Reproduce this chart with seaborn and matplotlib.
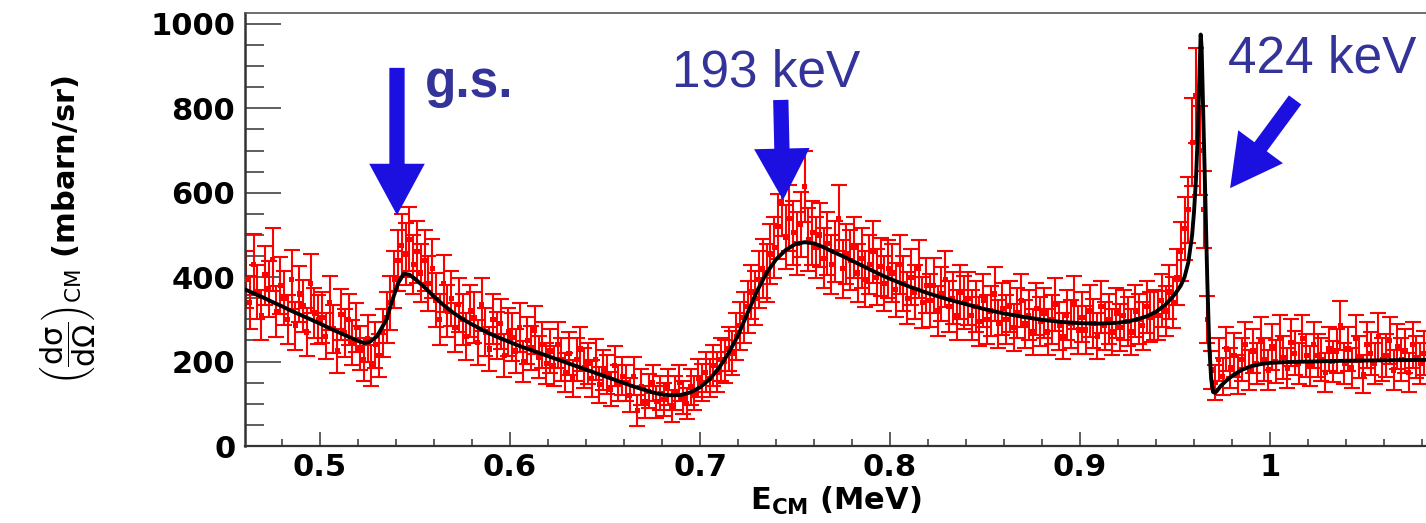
import numpy as np
import pandas as pd
import matplotlib
matplotlib.use("Agg")
import matplotlib.pyplot as plt
import seaborn as sns
from matplotlib.ticker import MultipleLocator, FuncFormatter

# --- fit curve (black line) ---
fit_e = [0.460, 0.465, 0.470, 0.475, 0.480, 0.485, 0.490, 0.495, 0.500, 0.505,
         0.510, 0.515, 0.520, 0.523, 0.526, 0.530, 0.535, 0.538, 0.541, 0.544,
         0.547, 0.550, 0.555, 0.560, 0.565, 0.570, 0.575, 0.580, 0.585, 0.590,
         0.595, 0.600, 0.605, 0.610, 0.615, 0.620, 0.625, 0.630, 0.635, 0.640,
         0.645, 0.650, 0.655, 0.660, 0.665, 0.670, 0.675, 0.680, 0.685, 0.690,
         0.695, 0.700, 0.705, 0.710, 0.715, 0.720, 0.725, 0.730, 0.735, 0.740,
         0.745, 0.750, 0.755, 0.760, 0.765, 0.770, 0.775, 0.780, 0.785, 0.790,
         0.795, 0.800, 0.810, 0.820, 0.830, 0.840, 0.850, 0.860, 0.870, 0.880,
         0.890, 0.900, 0.910, 0.920, 0.925, 0.930, 0.935, 0.940, 0.945, 0.950,
         0.953, 0.955, 0.957, 0.959, 0.960, 0.961, 0.962, 0.963, 0.9635, 0.964,
         0.965, 0.966, 0.967, 0.968, 0.969, 0.970, 0.971, 0.972, 0.974, 0.977,
         0.980, 0.985, 0.990, 0.995, 1.000, 1.010, 1.020, 1.040, 1.060, 1.082]
fit_xs = [372, 362, 352, 341, 331, 320, 310, 300, 290, 279,
          269, 259, 249, 244, 246, 260, 300, 345, 385, 408,
          406, 396, 376, 354, 334, 316, 301, 288, 276, 265,
          255, 246, 237, 229, 221, 213, 205, 197, 189, 181,
          173, 165, 157, 149, 141, 134, 127, 122, 120, 121,
          127, 139, 158, 185, 220, 262, 315, 367, 410, 442,
          464, 478, 483, 480, 471, 460, 450, 439, 428, 417,
          406, 396, 378, 362, 348, 336, 324, 314, 306, 299,
          294, 291, 290, 292, 295, 300, 307, 318, 335, 360,
          380, 400, 435, 500, 555, 630, 740, 900, 975, 945,
          760, 580, 390, 240, 160, 128, 126, 130, 142, 155,
          166, 180, 189, 194, 197, 199, 200, 202, 203, 204]

# --- measured points (red), bins of 2 keV starting at 0.461 MeV ---
e_first = 0.461
e_bin = 0.002
data_xs = [
    395, 340, 430, 365, 310, 405, 372, 442, 318, 380,
    350, 300, 395, 285, 360, 332, 270, 385, 315, 300,
    305, 260, 340, 278, 225, 312, 268, 300, 245, 280,
    232, 205, 255, 190, 240, 215, 268, 305, 340, 395,
    440, 475, 455, 490, 430, 460, 410, 440, 385, 420,
    345, 300, 385, 320, 350, 280, 335, 300, 260, 320,
    305, 245, 335, 270, 230, 300, 262, 290, 215, 270,
    258, 225, 280, 200, 250, 232, 275, 210, 240, 195,
    225, 190, 240, 205, 175, 220, 160, 205, 230, 185,
    195, 160, 205, 145, 180, 170, 135, 190, 150, 165,
    150, 120, 165, 85, 140, 105, 130, 150, 105, 125,
    110, 140, 95, 125, 150, 115, 100, 140, 125, 160,
    150, 175, 160, 190, 175, 205, 200, 230, 220, 260,
    285, 305, 330, 365, 350, 395, 420, 410, 455, 470,
    520, 580, 495, 540, 505, 480, 525, 615, 490, 505,
    470, 500, 445, 480, 430, 460, 540, 420, 455, 440,
    470, 410, 445, 395, 430, 460, 400, 425, 385, 420,
    410, 370, 430, 385, 350, 400, 365, 420, 340, 380,
    345, 380, 320, 360, 395, 330, 350, 310, 365, 340,
    350, 310, 330, 295, 345, 300, 320, 360, 290, 325,
    300, 330, 280, 315, 345, 290, 310, 270, 325, 295,
    315, 270, 300, 335, 285, 260, 310, 290, 340, 275,
    305, 275, 320, 290, 260, 330, 285, 300, 270, 315,
    280, 310, 295, 270, 320, 300, 285, 330, 305, 310,
    310, 345, 320, 365, 340, 400, 460, 515, 560, 720,
    830, 700, 560, 300, 180, 150, 205, 165, 230, 185,
    215, 170, 205, 240, 180, 225, 195, 250, 205, 180,
    235, 200, 255, 210, 185, 245, 220, 195, 255, 215,
    190, 240, 215, 205, 175, 230, 200, 225, 285, 195,
    230, 185, 255, 210, 170, 240, 220, 195, 260, 205,
    215, 250, 180, 235, 205, 225, 175, 240, 210, 195,
    220]
data_err = [
    68, 62, 72, 65, 60, 70, 66, 74, 60, 67,
    64, 58, 70, 57, 66, 62, 56, 69, 60, 58,
    60, 55, 64, 57, 52, 61, 56, 60, 54, 58,
    53, 50, 55, 49, 54, 51, 57, 60, 64, 68,
    72, 75, 73, 76, 70, 73, 69, 72, 66, 70,
    64, 60, 68, 62, 65, 58, 64, 60, 56, 62,
    60, 54, 63, 57, 52, 59, 56, 59, 51, 57,
    56, 52, 58, 49, 55, 53, 57, 50, 54, 48,
    52, 48, 54, 50, 46, 51, 44, 50, 53, 47,
    48, 44, 49, 42, 47, 46, 41, 48, 43, 45,
    43, 40, 45, 37, 42, 38, 41, 43, 38, 40,
    39, 42, 37, 40, 43, 39, 37, 42, 40, 45,
    44, 47, 45, 49, 47, 50, 50, 53, 52, 56,
    57, 60, 62, 65, 64, 67, 70, 69, 72, 73,
    76, 82, 75, 79, 76, 74, 77, 84, 75, 76,
    73, 76, 71, 74, 70, 72, 79, 69, 72, 71,
    73, 68, 71, 66, 70, 73, 67, 69, 65, 69,
    68, 64, 70, 65, 62, 67, 64, 69, 61, 65,
    62, 65, 60, 63, 66, 61, 62, 59, 64, 62,
    63, 59, 61, 57, 62, 58, 60, 63, 57, 61,
    58, 61, 56, 60, 62, 57, 59, 55, 61, 58,
    60, 55, 58, 62, 57, 54, 59, 57, 62, 56,
    59, 56, 61, 58, 54, 62, 57, 59, 55, 60,
    56, 60, 58, 55, 61, 59, 57, 62, 59, 60,
    58, 62, 60, 64, 61, 66, 70, 74, 78, 105,
    112, 105, 92, 55, 46, 42, 50, 44, 52, 47,
    52, 46, 50, 54, 47, 52, 49, 55, 50, 47,
    54, 50, 56, 51, 47, 55, 52, 49, 56, 51,
    48, 54, 51, 50, 46, 53, 49, 52, 58, 49,
    53, 47, 55, 50, 45, 54, 51, 48, 56, 50,
    51, 55, 47, 53, 50, 52, 46, 54, 50, 48,
    52]
data_e = np.round(e_first + e_bin * np.arange(len(data_xs)), 4)

# --- annotations ---
labels = ["g.s.", "193 keV", "424 keV"]
label_pos = [(0.5553, 827), (0.6853, 851), (0.9779, 886)]
label_bold = [True, False, False]
arrow_tail = [(0.5405, 896), (0.7425, 820), (1.0132, 820)]
arrow_tip = [(0.5405, 547), (0.7437, 583), (0.9790, 611)]

sns.set_style("ticks")
plt.rcParams['font.family'] = ['DejaVu Sans']
plt.rcParams['mathtext.fontset'] = 'custom'
plt.rcParams['mathtext.rm'] = 'DejaVu Sans'
plt.rcParams['mathtext.it'] = 'DejaVu Sans'
plt.rcParams['mathtext.bf'] = 'DejaVu Sans:bold'
plt.rcParams['text.color'] = 'black'

fig = plt.figure(figsize=(14.26, 5.23), dpi=100)
ax = fig.add_axes([245 / 1426, 77 / 523, 1181 / 1426, 433 / 523])

df_data = pd.DataFrame({'E': data_e, 'xs': data_xs, 'err': data_err})
df_fit = pd.DataFrame({'E': fit_e, 'xs': fit_xs})

ax.errorbar(df_data['E'], df_data['xs'], yerr=df_data['err'], fmt='none',
            ecolor='#ff0000', elinewidth=1.5, capsize=6, capthick=1.5, zorder=2)
sns.scatterplot(data=df_data, x='E', y='xs', ax=ax, marker='s', s=14,
                color='#ff0000', edgecolor='none', zorder=3)
sns.lineplot(data=df_fit, x='E', y='xs', ax=ax, color='black', lw=2.8, zorder=4)

ax.set_xlim(0.4605, 1.0821)
ax.set_ylim(0, 1026)

# arrows and labels
for tail, tip in zip(arrow_tail, arrow_tip):
    ax.annotate('', xy=tip, xytext=tail,
                arrowprops=dict(arrowstyle='simple,head_length=37,head_width=40,tail_width=11',
                                mutation_scale=1, color='#1c10e0', lw=0,
                                shrinkA=0, shrinkB=0), zorder=5)
for txt, (tx, ty), bold in zip(labels, label_pos, label_bold):
    ax.text(tx, ty, txt, fontsize=37, color='#333399', family='Liberation Sans',
            fontweight='bold' if bold else 'normal', ha='left', va='baseline',
            zorder=6)

# axes style
ax.spines['right'].set_visible(False)
ax.spines['top'].set_color('#555555')
ax.spines['top'].set_linewidth(1.2)
ax.spines['left'].set_color('#333333')
ax.spines['left'].set_linewidth(1.8)
ax.spines['bottom'].set_color('#333333')
ax.spines['bottom'].set_linewidth(1.6)

ax.xaxis.set_major_locator(MultipleLocator(0.1))
ax.xaxis.set_minor_locator(MultipleLocator(0.02))
ax.yaxis.set_major_locator(MultipleLocator(200))
ax.yaxis.set_minor_locator(MultipleLocator(50))
ax.xaxis.set_major_formatter(FuncFormatter(lambda v, p: '%g' % round(v, 2)))

ax.tick_params(axis='x', which='major', direction='in', length=10, width=1.1,
               color='#333333', pad=5, labelsize=22, labelcolor='black')
ax.tick_params(axis='x', which='minor', direction='in', length=5, width=1.1,
               color='#333333')
ax.tick_params(axis='y', which='major', direction='in', length=26, width=1.1,
               color='#333333', pad=7, labelsize=22, labelcolor='black')
ax.tick_params(axis='y', which='minor', direction='in', length=14, width=1.1,
               color='#333333')
for lab in ax.get_xticklabels() + ax.get_yticklabels():
    lab.set_fontweight('bold')

ax.set_xlabel(r'$\mathbf{E_{CM}}$ (MeV)', fontsize=22, fontweight='bold',
              color='black')
ax.xaxis.set_label_coords(0.5, -0.09)
ax.set_ylabel(r'$\left(\dfrac{d\sigma}{d\Omega}\right)_{CM}$ (mbarn/sr)',
              fontsize=22, fontweight='bold', va='center', color='black')
ax.yaxis.set_label_coords(-0.15, 0.5)

fig.savefig('out.png', dpi=100)
